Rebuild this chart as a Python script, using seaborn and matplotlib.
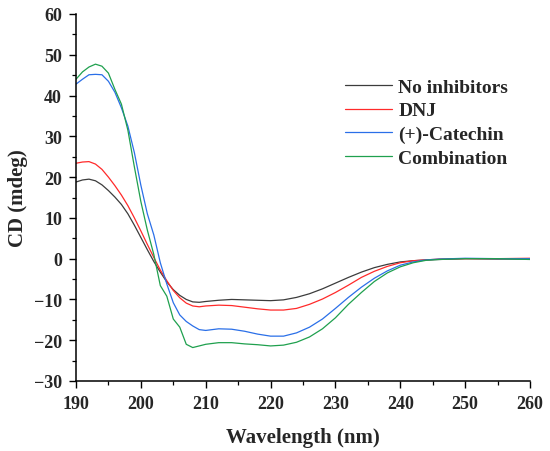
import matplotlib
matplotlib.use("Agg")
import matplotlib.pyplot as plt
import seaborn as sns
import pandas as pd
from matplotlib.ticker import MultipleLocator

wavelength = [190, 191, 192, 193, 194, 195, 196, 197, 198, 199, 200, 201, 202, 203,
              204, 205, 206, 207, 208, 209, 210, 212, 214, 216, 218, 220, 222, 224,
              226, 228, 230, 232, 234, 236, 238, 240, 242, 244, 246, 250, 255, 260]

no_inhibitors = [18.8, 19.3, 19.5, 19.1, 18.1, 16.7, 15.1, 13.3, 11.0, 8.2, 5.2, 2.2, -0.7, -3.3,
                 -5.7, -7.6, -9.0, -10.0, -10.6, -10.7, -10.5, -10.2, -10.0, -10.1, -10.2, -10.3, -10.1, -9.5,
                 -8.6, -7.4, -6.0, -4.6, -3.3, -2.2, -1.4, -0.8, -0.5, -0.3, -0.2, 0.0, -0.1, -0.1]

dnj = [23.4, 23.7, 23.8, 23.2, 21.9, 20.0, 17.9, 15.6, 13.0, 10.0, 6.8, 3.5, 0.3, -2.8,
       -5.4, -7.8, -9.6, -10.9, -11.6, -11.8, -11.6, -11.4, -11.5, -11.9, -12.3, -12.6, -12.6, -12.2,
       -11.2, -9.9, -8.3, -6.5, -4.6, -3.1, -1.9, -1.0, -0.5, -0.3, -0.1, 0.0, 0.0, 0.1]

catechin = [42.8, 44.0, 45.1, 45.2, 45.1, 43.5, 40.8, 37.0, 32.5, 26.0, 18.0, 11.0, 5.8, -1.0,
            -6.2, -10.8, -13.8, -15.4, -16.5, -17.4, -17.6, -17.2, -17.3, -17.8, -18.5, -19.0, -19.0, -18.2,
            -16.8, -14.8, -12.2, -9.5, -7.0, -4.8, -3.0, -1.6, -0.8, -0.3, -0.1, 0.1, 0.0, 0.0]

combination = [44.0, 45.8, 47.0, 47.7, 47.2, 45.5, 41.5, 37.9, 31.5, 22.5, 14.0, 7.0, 1.0, -6.6,
               -9.2, -14.8, -16.8, -21.0, -21.8, -21.4, -21.0, -20.6, -20.6, -20.9, -21.1, -21.4, -21.2, -20.5,
               -19.2, -17.2, -14.5, -11.2, -8.3, -5.6, -3.5, -2.0, -1.0, -0.4, -0.2, 0.0, 0.0, -0.2]

series_names = ["No inhibitors", "DNJ", "(+)-Catechin", "Combination"]
series_values = [no_inhibitors, dnj, catechin, combination]
colors = ["#3c3c3c", "#ff2a2a", "#2a6fe8", "#1fa04e"]

x_ticks = [190, 200, 210, 220, 230, 240, 250, 260]
y_ticks = [-30, -20, -10, 0, 10, 20, 30, 40, 50, 60]

rows = []
for name, vals in zip(series_names, series_values):
    for w, v in zip(wavelength, vals):
        rows.append({"Wavelength": w, "CD": v, "Sample": name})
df = pd.DataFrame(rows)

sns.set_style("ticks")
plt.rcParams["font.family"] = ["Liberation Serif", "DejaVu Serif"]
plt.rcParams["font.weight"] = "bold"

fig = plt.figure(figsize=(5.5, 4.52), dpi=100)
W, H = 550, 452
ax_l, ax_r, ax_t, ax_b = 76, 530, 15, 382
ax = fig.add_axes([ax_l / W, 1 - ax_b / H, (ax_r - ax_l) / W, (ax_b - ax_t) / H])

sns.lineplot(data=df, x="Wavelength", y="CD", hue="Sample", hue_order=series_names,
             palette=colors, linewidth=0.9, ax=ax, legend=True)

ax.set_xlim(190, 260)
ax.set_ylim(-30, 60)
ax.set_xticks(x_ticks)
ax.set_yticks(y_ticks)
ax.set_xticklabels([str(t) for t in x_ticks])
ax.set_yticklabels([("\u2212" + str(-t)) if t < 0 else str(t) for t in y_ticks])
ax.xaxis.set_minor_locator(MultipleLocator(5))
ax.yaxis.set_minor_locator(MultipleLocator(5))
ax.tick_params(axis="both", which="major", direction="out", length=5, width=1.0,
               labelsize=13, pad=5, color="black")
ax.tick_params(axis="both", which="minor", direction="out", length=3, width=0.9, color="black")
for lab in ax.get_xticklabels() + ax.get_yticklabels():
    lab.set_fontweight("bold")

for s in ["top", "right"]:
    ax.spines[s].set_visible(False)
for s in ["left", "bottom"]:
    ax.spines[s].set_linewidth(1.1)
    ax.spines[s].set_color("black")

ax.set_xlabel("Wavelength (nm)", fontsize=15, fontweight="bold", labelpad=11)
ax.set_ylabel("CD (mdeg)", fontsize=15, fontweight="bold", labelpad=4)

leg_x = (345 - ax_l) / (ax_r - ax_l)
leg_y = (ax_b - 79) / (ax_b - ax_t)
ax.legend(loc="upper left", bbox_to_anchor=(leg_x, leg_y), frameon=False,
          prop={"size": 14, "weight": "bold", "family": ["Liberation Serif"]},
          handlelength=2.4, handletextpad=0.35, labelspacing=0.32,
          borderpad=0, borderaxespad=0, title=None)

fig.savefig("out.png", dpi=100)
